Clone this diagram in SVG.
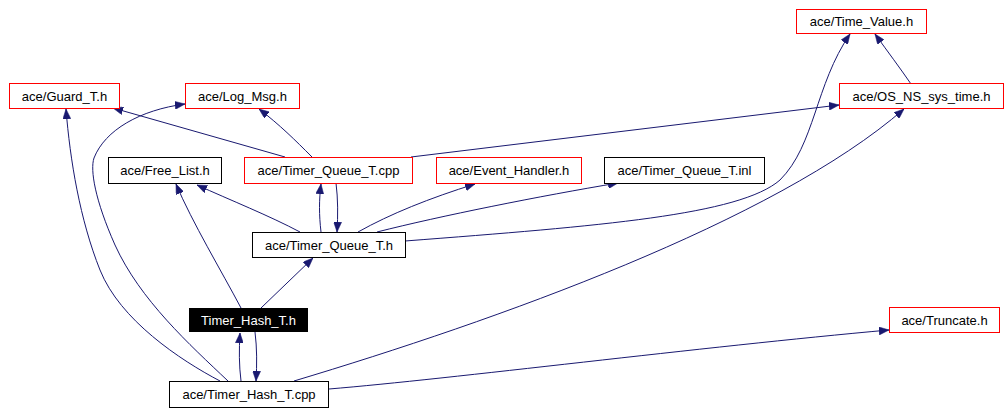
<svg xmlns="http://www.w3.org/2000/svg" width="1008" height="413" viewBox="0 0 1008 413">
<style>
.n rect{fill:#ffffff;stroke:#000000;stroke-width:1}
.n.r rect{stroke:#ff0000}
.n.cur rect{fill:#000000;stroke:#000000}
.n text{font-family:"Liberation Sans",Arial,sans-serif;font-size:13px;fill:#000000;text-anchor:middle}
.n.cur text{fill:#ffffff}
#edges path{fill:none;stroke:#191970;stroke-width:1;marker-end:url(#ah)}
</style>
<defs>
<marker id="ah" viewBox="0 0 10 8" refX="10" refY="4" markerUnits="userSpaceOnUse" markerWidth="10" markerHeight="8" orient="auto">
<path d="M0,0 L10,4 L0,8 Z" fill="#191970" stroke="#191970" stroke-width="0.5"/>
</marker>
</defs>
<rect x="0" y="0" width="1008" height="413" fill="#ffffff"/>
<g id="edges">
<path d="M261,308 L313,258"/>
<path d="M241,308 C222,272 192,222 176,184"/>
<path d="M241,381 C239,365 239,350 240,333"/>
<path d="M255,332 C257,348 257,364 256,381"/>
<path d="M220,381 C180,360 120,320 100,270 C80,220 70,160 66,109"/>
<path d="M228,381 C190,345 140,300 115,245 C95,200 90,170 94,158 C105,130 140,110 185,104"/>
<path d="M294,381 C494,321 774,222 904,109"/>
<path d="M329,389 C450,379 700,347 889,330"/>
<path d="M300,232 C270,216 230,200 197,185"/>
<path d="M321,232 C319,215 319,200 321,184"/>
<path d="M336,183 C338,199 338,215 337,232"/>
<path d="M358,232 C390,214 430,198 475,184"/>
<path d="M377,232 C440,216 540,196 618,183"/>
<path d="M405,241 C600,226 740,215 780,180 C815,145 815,85 850,34"/>
<path d="M285,157 L113,108"/>
<path d="M312,157 C295,140 280,125 259,109"/>
<path d="M411,157 L839,105"/>
<path d="M911,84 C900,68 888,52 875,34"/>
</g>
<g id="n_time_value" class="n r"><rect x="796.5" y="9.5" width="130" height="24"/><text x="861.5" y="26">ace/Time_Value.h</text></g>
<g id="n_os_ns_sys_time" class="n r"><rect x="839.5" y="83.5" width="164" height="25"/><text x="921.5" y="100.5">ace/OS_NS_sys_time.h</text></g>
<g id="n_guard_t" class="n r"><rect x="9.5" y="83.5" width="110" height="25"/><text x="64.5" y="100.5">ace/Guard_T.h</text></g>
<g id="n_log_msg" class="n r"><rect x="185.5" y="83.5" width="114" height="25"/><text x="242.5" y="100.5">ace/Log_Msg.h</text></g>
<g id="n_free_list" class="n"><rect x="108.5" y="157.5" width="113" height="26"/><text x="165" y="175">ace/Free_List.h</text></g>
<g id="n_timer_queue_cpp" class="n r"><rect x="244.5" y="157.5" width="168" height="26"/><text x="328.5" y="175">ace/Timer_Queue_T.cpp</text></g>
<g id="n_event_handler" class="n r"><rect x="436.5" y="157.5" width="145" height="26"/><text x="509" y="175">ace/Event_Handler.h</text></g>
<g id="n_timer_queue_inl" class="n"><rect x="604.5" y="157.5" width="160" height="26"/><text x="684.5" y="175">ace/Timer_Queue_T.inl</text></g>
<g id="n_timer_queue_h" class="n"><rect x="252.5" y="232.5" width="153" height="25"/><text x="329" y="249.5">ace/Timer_Queue_T.h</text></g>
<g id="n_timer_hash_h" class="n cur"><rect x="189.5" y="308.5" width="118" height="23"/><text x="248.5" y="324.5">Timer_Hash_T.h</text></g>
<g id="n_timer_hash_cpp" class="n"><rect x="169.5" y="381.5" width="159" height="26"/><text x="249" y="399">ace/Timer_Hash_T.cpp</text></g>
<g id="n_truncate" class="n r"><rect x="889.5" y="307.5" width="110" height="25"/><text x="944.5" y="324.5">ace/Truncate.h</text></g>
</svg>
